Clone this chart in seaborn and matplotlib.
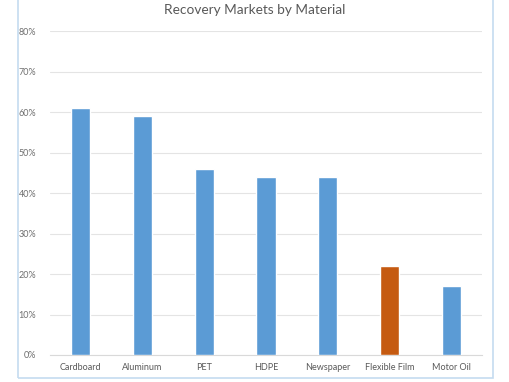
import matplotlib
matplotlib.use('Agg')
import matplotlib.pyplot as plt
import seaborn as sns
import pandas as pd
from matplotlib.patches import Rectangle
from matplotlib.ticker import PercentFormatter

# Datos
materiales = ['Cardboard', 'Aluminum', 'PET', 'HDPE', 'Newspaper', 'Flexible Film', 'Motor Oil']
recuperacion = [61, 59, 46, 44, 44, 22, 17]
colores = ['#5B9BD5'] * 5 + ['#C55A11'] + ['#5B9BD5']

sns.set_theme(style='white')
plt.rcParams['font.family'] = ['Lato', 'DejaVu Sans']

df = pd.DataFrame({'material': materiales, 'valor': recuperacion})

fig = plt.figure(figsize=(5.1, 3.82), dpi=100)
ax = fig.add_axes([0.098, 0.0707, 0.847, 0.848])

sns.barplot(data=df, x='material', y='valor', hue='material', palette=colores,
            legend=False, width=0.31, saturation=1, ax=ax, zorder=3)

ax.set_ylim(0, 80)
ax.set_yticks(range(0, 81, 10))
ax.yaxis.set_major_formatter(PercentFormatter(decimals=0))
ax.grid(axis='y', color='#E4E4E4', linewidth=0.8, zorder=0)
ax.set_axisbelow(True)
for s in ['top', 'right', 'left']:
    ax.spines[s].set_visible(False)
ax.spines['bottom'].set_color('#D9D9D9')
ax.spines['bottom'].set_linewidth(0.8)
ax.set_xlabel('')
ax.set_ylabel('')
ax.tick_params(axis='y', labelsize=6.5, colors='#6F6F6F', length=0, pad=10)
ax.tick_params(axis='x', labelsize=6.5, colors='#595959', length=0, pad=6)

fig.text(0.5, 0.975, 'Recovery Markets by Material', ha='center', va='center',
         fontsize=9.8, color='#595959')

# Marco exterior azul claro
fig.patches.append(Rectangle((18 / 510, 4 / 382), 475 / 510, 1.1, transform=fig.transFigure,
                             fill=False, edgecolor='#C5DCF0', linewidth=1.2))

fig.savefig('out.png', dpi=100)
